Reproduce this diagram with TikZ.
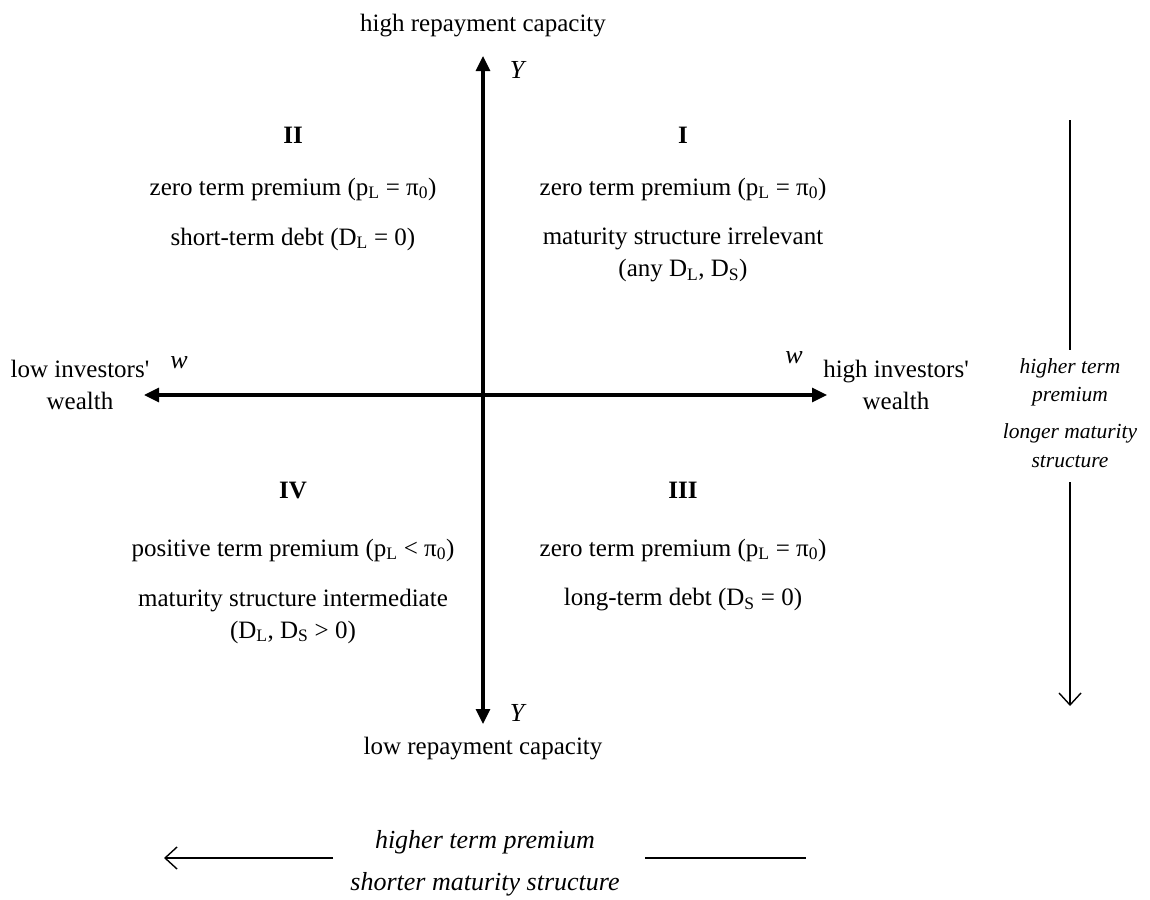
\documentclass[tikz,border=0pt]{standalone}
\usepackage{fontspec}
\setmainfont{Liberation Serif}[Ligatures=TeXOff]
\usetikzlibrary{arrows.meta}
\newcommand{\sub}[1]{\textsubscript{#1}}
\begin{document}
\begin{tikzpicture}[x=1pt,y=-1pt,
  every node/.style={font=\fontsize{25}{32}\selectfont, inner sep=0pt, align=center},
  axis/.style={line width=3.2pt, -{Triangle[length=15pt,width=14pt]}},
  side/.style={line width=1.4pt},
  sidearrow/.style={line width=1.4pt, -{Straight Barb[length=12pt,width=22pt,line width=1.4pt]}},
  roman/.style={font=\fontsize{25}{32}\selectfont\bfseries},
  lbl/.style={font=\fontsize{26}{32}\selectfont\itshape},
  rlbl/.style={font=\fontsize{21.5}{28}\selectfont\itshape}]
\useasboundingbox (0,0) rectangle (1150,899);
% axes
\coordinate (O) at (483,395);
\coordinate (Ytop) at (483,56);
\coordinate (Ybot) at (483,724);
\coordinate (Wl) at (144,395);
\coordinate (Wr) at (827,395);
\draw[axis] (O) -- (Ytop);
\draw[axis] (O) -- (Ybot);
\draw[axis] (O) -- (Wl);
\draw[axis] (O) -- (Wr);
\node (hrc) at (483,26) {high repayment capacity};
\node (lrc) at (483,749) {low repayment capacity};
\node[lbl] (Yt) at (517,70) {Y};
\node[lbl] (Yb) at (517,713) {Y};
\node[lbl] (wl) at (179,363) {w};
\node[lbl] (wr) at (794,358) {w};
\node (liw) at (80,385) {low investors'\\wealth};
\node (hiw) at (896,385) {high investors'\\wealth};
% quadrants
\node[roman] (q2) at (293,135) {II};
\node[roman] (q1) at (683,135) {I};
\node[roman] (q4) at (293,490) {IV};
\node[roman] (q3) at (683,490) {III};
\node (q2a) at (293,189) {zero term premium (p\sub{L} = π\sub{0})};
\node (q2b) at (293,239) {short-term debt (D\sub{L} = 0)};
\node (q1a) at (683,189) {zero term premium (p\sub{L} = π\sub{0})};
\node (q1b) at (683,255) {maturity structure irrelevant\\(any D\sub{L}, D\sub{S})};
\node (q4a) at (293,550) {positive term premium (p\sub{L} < π\sub{0})};
\node (q4b) at (293,616) {maturity structure intermediate\\(D\sub{L}, D\sub{S} > 0)};
\node (q3a) at (683,550) {zero term premium (p\sub{L} = π\sub{0})};
\node (q3b) at (683,600) {long-term debt (D\sub{S} = 0)};
% right side arrow
\node[rlbl] (r1) at (1070,368) {higher term};
\node[rlbl] (r2) at (1070,397) {premium};
\node[rlbl] (r3) at (1070,433) {longer maturity};
\node[rlbl] (r4) at (1070,462) {structure};
\coordinate (rtop) at (1070,120);
\coordinate (rmid1) at (1070,350);
\coordinate (rmid2) at (1070,482);
\coordinate (rbot) at (1070,706);
\draw[side] (rtop) -- (rmid1);
\draw[sidearrow] (rmid2) -- (rbot);
% bottom arrow
\node[lbl] (b1) at (485,842) {higher term premium};
\node[lbl] (b2) at (485,884) {shorter maturity structure};
\coordinate (bl) at (164,858);
\coordinate (br) at (806,858);
\coordinate (bla) at (333,858);
\coordinate (bra) at (645,858);
\draw[sidearrow] (bla) -- (bl);
\draw[side] (bra) -- (br);
\end{tikzpicture}
\end{document}
